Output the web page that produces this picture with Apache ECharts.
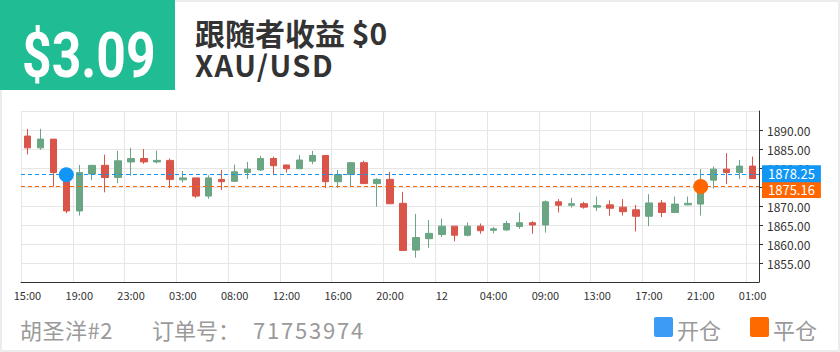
<!DOCTYPE html>
<html>
<head>
<meta charset="utf-8">
<script src="https://cdn.jsdelivr.net/npm/echarts@6/dist/echarts.min.js"></script>
<style>
  html, body { margin: 0; padding: 0; background: #fff; }
  #wrap { position: relative; width: 840px; height: 352px; overflow: hidden; font-family: "Noto Sans CJK SC", "Noto Sans", sans-serif; }
  #frame { position: absolute; left: 0; top: 0; width: 840px; height: 352px; box-sizing: border-box; border: 2px solid #ececec; }
  #chart { position: absolute; left: 0; top: 0; width: 840px; height: 352px; }
  #badge { position: absolute; left: 0; top: 0; width: 175px; height: 90px; background: #20bc94; }
  #amount { position: absolute; left: 22px; top: 24px; font-family: Roboto, sans-serif; font-weight: bold; font-size: 63px; line-height: 63px; color: #fff; white-space: nowrap; transform: scaleX(0.82); transform-origin: 0 0; }
  .title { position: absolute; left: 195px; font-weight: bold; color: #333; white-space: nowrap; }
  .foot { position: absolute; top: 318px; font-size: 22px; line-height: 22px; color: #9a9a9a; white-space: nowrap; }
  .sq { position: absolute; top: 317px; width: 19px; height: 20px; border-radius: 2px; }
</style>
</head>
<body>
<div id="wrap">
  <div id="frame"></div>
  <div id="chart"></div>
  <div id="badge"><div id="amount">$3.09</div></div>
  <div class="title" style="top:17px;font-size:30px;line-height:30px;">跟随者收益 $0</div>
  <div class="title" style="top:50px;font-size:29px;line-height:29px;letter-spacing:1.5px;">XAU/USD</div>
  <div class="foot" style="left:20px;letter-spacing:0.5px;">胡圣洋#2</div>
  <div class="foot" style="left:152px;">订单号：</div>
  <div class="foot" style="left:253px;letter-spacing:1.8px;">71753974</div>
  <div class="sq" style="left:654px;background:#3d9bf5;"></div>
  <div class="foot" style="left:677px;">开仓</div>
  <div class="sq" style="left:750px;background:#ff6a00;"></div>
  <div class="foot" style="left:773px;">平仓</div>
</div>
<script>
const categories = [
  '15:00','16:00','17:00','18:00','19:00','20:00','21:00','22:00',
  '23:00','00:00','01:00','02:00','03:00','05:00','06:00','07:00',
  '08:00','09:00','10:00','11:00','12:00','13:00','14:00','15:00',
  '16:00','17:00','18:00','19:00','20:00','21:00','22:00','23:00',
  '12','01:00','02:00','03:00','04:00','06:00','07:00','08:00',
  '09:00','10:00','11:00','12:00','13:00','14:00','15:00','16:00',
  '17:00','18:00','19:00','20:00','21:00','22:00','23:00','00:00',
  '01:00'
];
const openV = [
  1888.4,1885.3,1887.6,1878.8,1868.7,1878.4,1880.7,1877.5,
  1881.6,1882.5,1881.6,1882.0,1876.9,1877.4,1872.6,1877.0,
  1876.5,1878.8,1879.5,1882.5,1880.8,1879.8,1881.8,1883.3,
  1876.4,1878.3,1881.4,1875.9,1877.0,1870.7,1858.4,1861.4,
  1862.5,1864.7,1862.3,1864.7,1863.6,1863.7,1864.6,1865.6,
  1865.0,1871.1,1870.2,1870.6,1869.7,1870.3,1869.7,1869.0,
  1867.3,1870.8,1868.3,1870.3,1870.5,1876.8,1879.7,1878.8,
  1880.5
];
const closeV = [
  1885.3,1887.6,1878.8,1868.7,1878.8,1880.7,1877.5,1881.9,
  1882.5,1881.6,1882.0,1877.0,1877.4,1872.6,1877.4,1876.4,
  1879.0,1879.7,1882.5,1880.6,1879.8,1882.1,1883.3,1876.4,
  1878.3,1881.4,1875.9,1877.0,1870.6,1858.3,1861.7,1862.8,
  1864.7,1862.3,1864.7,1863.5,1864.0,1865.4,1865.6,1865.0,
  1871.1,1870.2,1870.6,1869.7,1870.1,1869.4,1868.5,1867.3,
  1870.8,1868.3,1870.5,1870.7,1876.5,1879.7,1878.8,1880.5,
  1877.2
];
const lowV = [
  1883.6,1884.8,1875.1,1868.1,1867.5,1876.8,1873.6,1876.0,
  1878.0,1881.1,1881.2,1874.7,1876.2,1872.1,1871.9,1874.2,
  1876.3,1877.1,1879.2,1878.4,1878.8,1879.8,1881.0,1874.7,
  1874.8,1875.2,1875.9,1869.8,1870.6,1858.2,1856.4,1859.0,
  1861.8,1860.7,1862.0,1862.7,1862.8,1863.5,1864.0,1862.7,
  1863.0,1868.3,1869.6,1869.3,1868.7,1867.4,1867.5,1863.3,
  1864.7,1867.1,1868.3,1870.2,1867.5,1874.6,1875.8,1877.1,
  1877.2
];
const highV = [
  1890.3,1890.3,1887.6,1879.0,1880.8,1880.7,1883.5,1884.5,
  1885.3,1885.0,1884.6,1882.5,1879.2,1877.4,1878.1,1879.5,
  1880.9,1881.6,1883.2,1883.0,1880.8,1883.4,1884.5,1883.3,
  1879.5,1881.6,1881.9,1877.3,1879.0,1873.7,1867.9,1866.3,
  1866.7,1864.7,1865.7,1865.4,1864.5,1866.1,1868.3,1866.0,
  1871.5,1871.8,1872.1,1871.1,1872.5,1871.5,1871.8,1870.3,
  1873.1,1871.6,1872.5,1872.5,1879.7,1880.4,1883.9,1882.1,
  1883.0
];
const openPrice = 1878.25;
const closePrice = 1875.16;
const openIndex = 3;
const closeIndex = 52;

const UP = '#6aa584';
const DOWN = '#d9554a';
const BLUE = '#1296f5';
const ORANGE = '#ff6600';
const FONT = '"Noto Sans CJK SC", "Noto Sans", sans-serif';

const candleData = categories.map((c, i) => [openV[i], closeV[i], lowV[i], highV[i]]);

const chart = echarts.init(document.getElementById('chart'), null, { renderer: 'svg' });
chart.setOption({
  animation: false,
  grid: { left: 21, right: 81, top: 111, bottom: 70 },
  xAxis: {
    type: 'category',
    data: categories,
    boundaryGap: true,
    axisLine: { lineStyle: { color: '#333', width: 1 } },
    axisTick: { alignWithLabel: true, interval: 3, length: 4, lineStyle: { color: '#333' } },
    axisLabel: { interval: 3, color: '#333', fontSize: 11, margin: 7, fontFamily: FONT },
    splitLine: { show: true, interval: 3, lineStyle: { color: '#e6e6e6' } }
  },
  yAxis: {
    type: 'value',
    position: 'right',
    min: 1850,
    max: 1895,
    interval: 5,
    axisLine: { show: true, lineStyle: { color: '#333' } },
    axisTick: { show: true, length: 4, lineStyle: { color: '#333' } },
    axisLabel: {
      color: '#333', fontSize: 12, margin: 8, fontFamily: FONT,
      showMinLabel: false, showMaxLabel: false,
      formatter: v => v.toFixed(2)
    },
    splitLine: { show: true, lineStyle: { color: '#e6e6e6' } }
  },
  series: [{
    type: 'candlestick',
    data: candleData,
    barWidth: 7,
    itemStyle: { color: UP, color0: DOWN, borderColor: UP, borderColor0: DOWN, borderWidth: 1 },
    markLine: {
      silent: true,
      symbol: ['none', 'none'],
      data: [
        {
          yAxis: closePrice,
          lineStyle: { color: ORANGE, type: [4, 3], width: 1 },
          label: {
            position: 'end', distance: 3, offset: [0, 3],
            formatter: p => Number(p.value).toFixed(2),
            color: '#fff', fontSize: 13, fontFamily: FONT,
            backgroundColor: ORANGE, padding: [2, 6, 2, 6]
          }
        },
        {
          yAxis: openPrice,
          lineStyle: { color: BLUE, type: [4, 3], width: 1 },
          label: {
            position: 'end', distance: 3, offset: [0, -1],
            formatter: p => Number(p.value).toFixed(2),
            color: '#fff', fontSize: 13, fontFamily: FONT,
            backgroundColor: BLUE, padding: [2, 6, 2, 6]
          }
        }
      ]
    },
    markPoint: {
      silent: true,
      symbol: 'circle',
      symbolSize: 15,
      label: { show: false },
      data: [
        { coord: [openIndex, openPrice], itemStyle: { color: BLUE } },
        { coord: [closeIndex, closePrice], itemStyle: { color: ORANGE } }
      ]
    }
  }]
});
</script>
</body>
</html>
